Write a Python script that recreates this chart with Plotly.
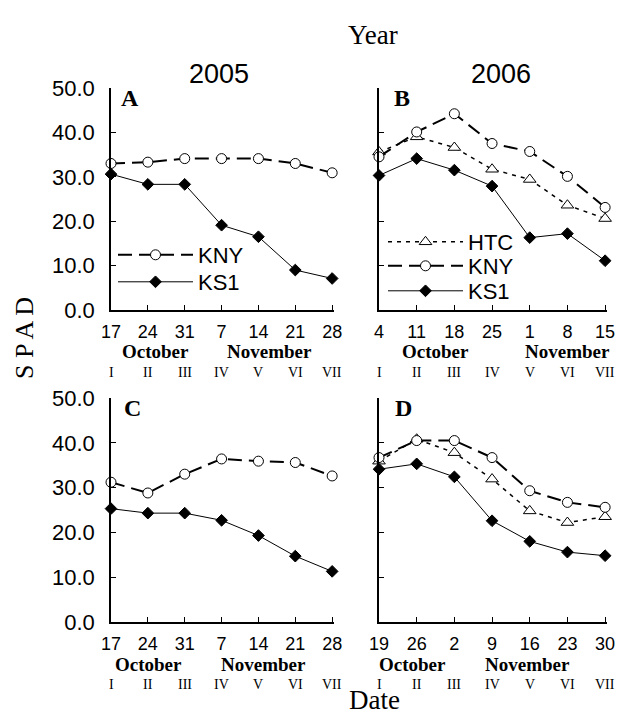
import plotly.graph_objects as go

W, H = 618, 717

# ---------------- data ----------------
dates_2005 = ["17", "24", "31", "7", "14", "21", "28"]
dates_2006_B = ["4", "11", "18", "25", "1", "8", "15"]
dates_2006_D = ["19", "26", "2", "9", "16", "23", "30"]
roman = ["I", "II", "III", "IV", "V", "VI", "VII"]
months = ["October", "November"]

A_KNY = [33.0, 33.3, 34.1, 34.1, 34.1, 33.0, 30.9]
A_KS1 = [30.6, 28.3, 28.3, 19.1, 16.5, 9.0, 7.1]

B_HTC = [35.6, 39.0, 36.6, 31.7, 29.4, 23.6, 20.6]
B_KNY = [34.5, 40.1, 44.2, 37.5, 35.7, 30.1, 23.1]
B_KS1 = [30.3, 34.1, 31.5, 27.9, 16.3, 17.2, 11.1]

C_KNY = [31.2, 28.8, 33.0, 36.4, 35.9, 35.6, 32.6]
C_KS1 = [25.3, 24.3, 24.3, 22.7, 19.3, 14.7, 11.3]

D_HTC = [35.9, 40.8, 37.8, 31.9, 24.8, 22.2, 23.5]
D_KNY = [36.7, 40.5, 40.5, 36.7, 29.3, 26.7, 25.6]
D_KS1 = [34.1, 35.3, 32.4, 22.6, 18.0, 15.6, 14.8]

y_ticks = [0, 10, 20, 30, 40, 50]

# ---------------- helpers ----------------
def px(x):
    return x / W

def py(y):
    return 1 - y / H

SANS = "Liberation Sans Narrow, Arial Narrow, Liberation Sans, Arial"
SERIF = "Liberation Serif, Times New Roman, serif"
XMAX = 6.05

panels = {
    "A": dict(x0=111, x1=334, y0=88, y1=310, month_cat=(1.22, 4.3),
              letter=(130, 98)),
    "B": dict(x0=379, x1=607, y0=88, y1=310, month_cat=(1.49, 5.0),
              letter=(402, 98)),
    "C": dict(x0=111, x1=334, y0=398, y1=622, month_cat=(1.03, 4.15),
              letter=(132, 408)),
    "D": dict(x0=379, x1=607, y0=398, y1=622, month_cat=(0.9, 3.95),
              letter=(403, 408)),
}

def cat_px(p, c):
    return p["x0"] + c * (p["x1"] - p["x0"]) / XMAX

styles = {
    "KNY": dict(line=dict(color="black", width=2, dash="14px,7px"),
                marker=dict(symbol="circle", size=10, color="white",
                            line=dict(color="black", width=1))),
    "HTC": dict(line=dict(color="black", width=1.5, dash="4px,5px"),
                marker=dict(symbol="triangle-up", size=11, color="white",
                            line=dict(color="black", width=1))),
    "KS1": dict(line=dict(color="black", width=1),
                marker=dict(symbol="diamond", size=9, color="black",
                            line=dict(color="black", width=1))),
}

fig = go.Figure()
cats = list(range(7))

def add(name, vals, ax, legend=None):
    st = styles[name]
    fig.add_trace(go.Scatter(
        x=cats, y=vals, name=name, mode="lines+markers",
        line=st["line"], marker=st["marker"],
        xaxis="x" + ("" if ax == 1 else str(ax)),
        yaxis="y" + ("" if ax == 1 else str(ax)),
        legend=legend if legend else "legend",
        showlegend=legend is not None, cliponaxis=False,
    ))

add("KNY", A_KNY, 1, "legend")
add("KS1", A_KS1, 1, "legend2")
add("HTC", B_HTC, 2, "legend3")
add("KNY", B_KNY, 2, "legend4")
add("KS1", B_KS1, 2, "legend5")
add("KNY", C_KNY, 3)
add("KS1", C_KS1, 3)
add("HTC", D_HTC, 4)
add("KNY", D_KNY, 4)
add("KS1", D_KS1, 4)

layout = dict(
    width=W, height=H,
    margin=dict(l=0, r=0, t=0, b=0, autoexpand=False),
    paper_bgcolor="white", plot_bgcolor="white",
    font=dict(family=SANS, color="black"),
)

tick_sets = {"A": dates_2005, "B": dates_2006_B, "C": dates_2005, "D": dates_2006_D}
annotations = []
for i, key in enumerate(["A", "B", "C", "D"], start=1):
    p = panels[key]
    sfx = "" if i == 1 else str(i)
    layout["xaxis" + sfx] = dict(
        domain=[px(p["x0"]), px(p["x1"])], anchor="y" + sfx,
        range=[0, XMAX], showline=True, linecolor="black", linewidth=1.5,
        ticks="inside", ticklen=5, tickcolor="black", tickwidth=1,
        tickvals=cats, ticktext=tick_sets[key], showgrid=False, zeroline=False,
        tickfont=dict(family=SANS, size=18), ticklabelstandoff=5,
    )
    layout["yaxis" + sfx] = dict(
        domain=[py(p["y1"]), py(p["y0"])], anchor="x" + sfx,
        range=[0, 50], showline=True, linecolor="black", linewidth=1.5,
        ticks="inside", ticklen=5, tickcolor="black", tickwidth=1,
        tickvals=y_ticks, ticktext=[f"{v:.1f}" for v in y_ticks],
        showticklabels=key in ("A", "C"), showgrid=False, zeroline=False,
        tickfont=dict(family=SANS, size=22), ticklabelstandoff=10,
    )
    lx, ly = p["letter"]
    annotations.append(dict(
        text="<b>%s</b>" % key, xref="paper", yref="paper",
        x=px(lx), y=py(ly), xanchor="center", yanchor="middle",
        showarrow=False, font=dict(family=SERIF, size=24)))
    for m, mc in zip(months, p["month_cat"]):
        annotations.append(dict(
            text="<b>%s</b>" % m, xref="paper", yref="paper",
            x=px(cat_px(p, mc)), y=py(p["y1"] + 42), xanchor="center",
            yanchor="middle", showarrow=False, font=dict(family=SERIF, size=19)))
    for j, r in enumerate(roman):
        annotations.append(dict(
            text=r, xref="paper", yref="paper",
            x=px(cat_px(p, j)), y=py(p["y1"] + 62), xanchor="center",
            yanchor="middle", showarrow=False, font=dict(family=SERIF, size=14)))

annotations += [
    dict(text="Year", xref="paper", yref="paper", x=px(373), y=py(35),
         xanchor="center", yanchor="middle",
         showarrow=False, font=dict(family=SERIF, size=27)),
    dict(text="2005", xref="paper", yref="paper", x=px(219), y=py(74),
         xanchor="center", yanchor="middle",
         showarrow=False, font=dict(family=SANS, size=27)),
    dict(text="2006", xref="paper", yref="paper", x=px(501), y=py(74),
         xanchor="center", yanchor="middle",
         showarrow=False, font=dict(family=SANS, size=27)),
    dict(text="S P A D", xref="paper", yref="paper", x=px(24), y=py(338),
         xanchor="center", yanchor="middle",
         textangle=-90, showarrow=False, font=dict(family=SERIF, size=26)),
    dict(text="Date", xref="paper", yref="paper", x=px(375), y=0,
         xanchor="center", yanchor="bottom",
         showarrow=False, font=dict(family=SERIF, size=27)),
]
layout["annotations"] = annotations

leg_common = dict(bgcolor="rgba(0,0,0,0)", font=dict(family=SANS, size=22),
                  itemwidth=75, tracegroupgap=0, xanchor="left",
                  yanchor="middle", itemclick=False, borderwidth=0)
legend_pos = {
    "legend": (113, 255), "legend2": (113, 282),
    "legend3": (383, 242), "legend4": (383, 266), "legend5": (383, 291),
}
for k, (lx, ly) in legend_pos.items():
    layout[k] = dict(x=px(lx), y=py(ly), **leg_common)

fig.update_layout(**layout)
fig.write_html("out.html")
